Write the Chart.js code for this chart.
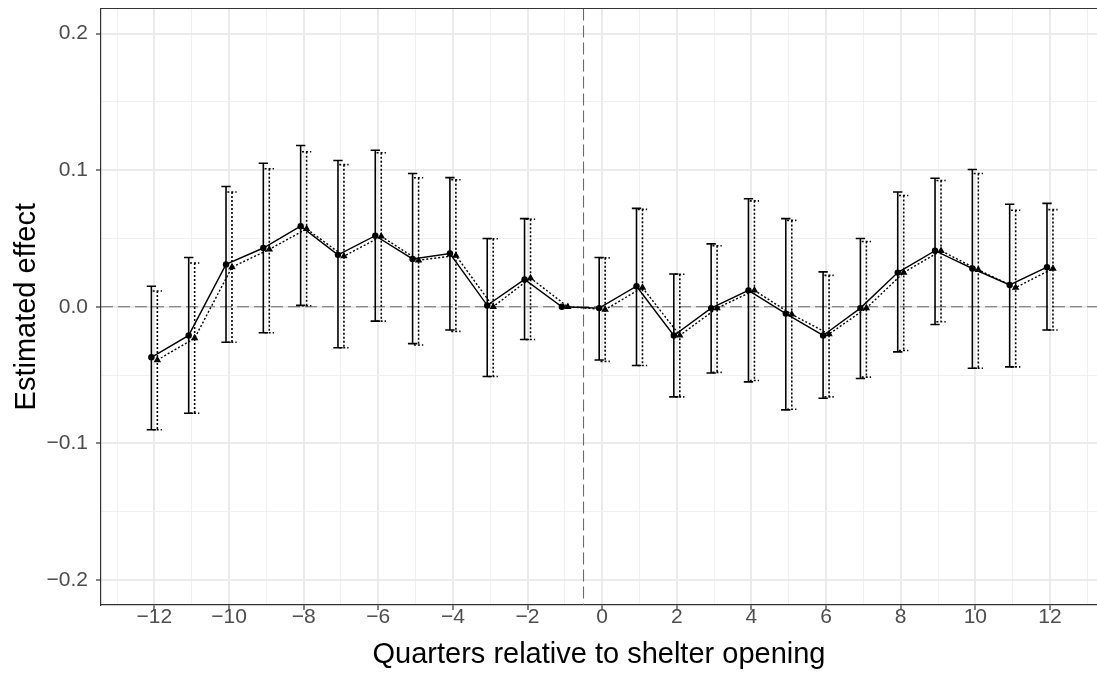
<!DOCTYPE html>
<html>
<head>
<meta charset="utf-8">
<script src="https://cdn.jsdelivr.net/npm/chart.js@4/dist/chart.umd.min.js"></script>
<style>
  html, body { margin: 0; padding: 0; background: #ffffff; overflow: hidden; }
  #wrap { width: 1097px; height: 675px; position: relative; }
</style>
</head>
<body>
<div id="wrap"><canvas id="c" width="1097" height="675"></canvas></div>
<script>
// Event-study estimates by quarter relative to shelter opening
const quarters = [-12, -11, -10, -9, -8, -7, -6, -5, -4, -3, -2, -1, 0, 1, 2, 3, 4, 5, 6, 7, 8, 9, 10, 11, 12];

// Model A (solid line, circles)
const estA  = [-0.037, -0.021, 0.031, 0.043, 0.059, 0.038, 0.052, 0.035, 0.039, 0.001, 0.020, 0, -0.001, 0.015, -0.021, -0.001, 0.012, -0.005, -0.021, -0.001, 0.025, 0.041, 0.028, 0.016, 0.029];
const lowA  = [-0.090, -0.078, -0.026, -0.019, 0.001, -0.030, -0.0105, -0.027, -0.017, -0.051, -0.024, null, -0.039, -0.043, -0.066, -0.0485, -0.055, -0.0755, -0.067, -0.0525, -0.033, -0.013, -0.045, -0.044, -0.017];
const highA = [0.015, 0.036, 0.088, 0.105, 0.118, 0.107, 0.1145, 0.0975, 0.0945, 0.050, 0.0645, null, 0.036, 0.072, 0.024, 0.046, 0.079, 0.0645, 0.0255, 0.050, 0.084, 0.094, 0.1005, 0.075, 0.0757];

// Model B (dotted line, triangles)
const estB  = [-0.039, -0.023, 0.029, 0.042, 0.057, 0.037, 0.0515, 0.034, 0.0375, 0, 0.021, 0, -0.002, 0.014, -0.021, -0.001, 0.012, -0.0056, -0.020, -0.001, 0.025, 0.041, 0.027, 0.014, 0.028];
const lowB  = [-0.090, -0.078, -0.026, -0.019, 0.0007, -0.030, -0.0105, -0.028, -0.018, -0.051, -0.024, null, -0.040, -0.043, -0.066, -0.048, -0.054, -0.075, -0.066, -0.0515, -0.032, -0.011, -0.045, -0.044, -0.017];
const highB = [0.0115, 0.032, 0.084, 0.101, 0.1135, 0.104, 0.1127, 0.0944, 0.093, 0.0498, 0.064, null, 0.0358, 0.0713, 0.0238, 0.0446, 0.0775, 0.0632, 0.023, 0.0478, 0.0814, 0.0924, 0.0975, 0.0706, 0.0711];

// Axis ticks (labelled) and reference lines
const xTickLabels = [-12, -10, -8, -6, -4, -2, 0, 2, 4, 6, 8, 10, 12];
const yTickLabels = [-0.2, -0.1, 0.0, 0.1, 0.2];
const eventLine = -0.5;
const zeroLine = 0;

const DODGE = 0.08;      // horizontal offset of the two models
const CAP = 0.125;       // half-width of error-bar caps (x units)
const FONT = "'Liberation Sans', Arial, Helvetica, sans-serif";
const minus = s => s.replace('-', '\u2212');

const ptsA = quarters.map((q, i) => ({ x: q - DODGE, y: estA[i] }));
const ptsB = quarters.map((q, i) => ({ x: q + DODGE, y: estB[i] }));

const isMajorX = v => Math.abs(v % 2) < 1e-9;
const isMajorY = v => Math.abs(Math.round(v * 10) - v * 10) < 1e-6;

const panelPlugin = {
  id: 'panel',
  beforeDatasetsDraw(chart) {
    const { ctx, chartArea: a, scales: { x, y } } = chart;
    ctx.save();
    ctx.beginPath();
    ctx.rect(a.left, a.top, a.right - a.left, a.bottom - a.top);
    ctx.clip();
    // reference lines
    ctx.strokeStyle = '#6b6b6b';
    ctx.lineWidth = 1.1;
    ctx.setLineDash([12, 5]);
    const y0 = y.getPixelForValue(zeroLine);
    ctx.beginPath(); ctx.moveTo(a.left, y0); ctx.lineTo(a.right, y0); ctx.stroke();
    const xe = x.getPixelForValue(eventLine);
    ctx.beginPath(); ctx.moveTo(xe, a.top); ctx.lineTo(xe, a.bottom); ctx.stroke();
    // error bars
    const drawBars = (offset, lows, highs, dash, width) => {
      ctx.strokeStyle = '#000000';
      ctx.lineWidth = width;
      ctx.setLineDash(dash);
      quarters.forEach((q, i) => {
        if (lows[i] === null || highs[i] === null) return;
        const xc = x.getPixelForValue(q + offset);
        const xl = x.getPixelForValue(q + offset - CAP);
        const xr = x.getPixelForValue(q + offset + CAP);
        const yl = y.getPixelForValue(lows[i]);
        const yh = y.getPixelForValue(highs[i]);
        ctx.beginPath();
        ctx.moveTo(xc, yh); ctx.lineTo(xc, yl);
        ctx.moveTo(xl, yh); ctx.lineTo(xr, yh);
        ctx.moveTo(xl, yl); ctx.lineTo(xr, yl);
        ctx.stroke();
      });
    };
    drawBars(-DODGE, lowA, highA, [], 1.6);
    drawBars(DODGE, lowB, highB, [2, 2], 1.6);
    ctx.restore();
  },
  afterDraw(chart) {
    const { ctx, chartArea: a } = chart;
    ctx.save();
    ctx.strokeStyle = '#333333';
    ctx.lineWidth = 1.2;
    ctx.beginPath();
    ctx.moveTo(a.left, a.top);
    ctx.lineTo(a.right, a.top);
    ctx.stroke();
    ctx.restore();
  }
};

new Chart(document.getElementById('c'), {
  type: 'scatter',
  data: {
    datasets: [
      {
        label: 'A',
        data: ptsA,
        showLine: true,
        borderColor: '#000000',
        backgroundColor: '#000000',
        borderWidth: 1.4,
        pointStyle: 'circle',
        pointRadius: 3.2,
        pointBorderWidth: 0,
        pointHoverRadius: 3.2
      },
      {
        label: 'B',
        data: ptsB,
        showLine: true,
        borderColor: '#000000',
        backgroundColor: '#000000',
        borderWidth: 1.4,
        borderDash: [2, 2],
        pointStyle: 'triangle',
        pointRadius: 4.3,
        pointBorderWidth: 0,
        pointHoverRadius: 4.3
      }
    ]
  },
  options: {
    responsive: false,
    animation: false,
    events: [],
    layout: { autoPadding: false, padding: { top: 8.5, right: 0, bottom: 0, left: 0 } },
    plugins: { legend: { display: false }, tooltip: { enabled: false } },
    scales: {
      x: {
        type: 'linear',
        min: -13.43,
        max: 13.26,
        afterBuildTicks(scale) {
          const t = [];
          for (let v = -13; v <= 13; v++) t.push({ value: v });
          scale.ticks = t;
        },
        afterFit(scale) {
          scale.height = 70;
          scale.paddingLeft = 0;
          scale.paddingRight = 0;
        },
        border: { display: true, color: '#333333', width: 1.2 },
        grid: {
          color: c => isMajorX(c.tick.value) ? '#ebebeb' : '#f0f0f0',
          lineWidth: c => isMajorX(c.tick.value) ? 2 : 1,
          drawTicks: true,
          tickLength: 5,
          tickColor: c => isMajorX(c.tick.value) ? '#333333' : 'rgba(0,0,0,0)',
          tickWidth: 1.2
        },
        ticks: {
          autoSkip: false,
          maxRotation: 0,
          padding: -5.5,
          color: '#4d4d4d',
          font: { family: FONT, size: 21 },
          callback: v => (isMajorX(v) && xTickLabels.includes(v)) ? minus(String(v)) : ''
        },
        title: {
          display: true,
          text: 'Quarters relative to shelter opening',
          color: '#000000',
          font: { family: FONT, size: 29 },
          padding: { top: 0, bottom: 2.6 }
        }
      },
      y: {
        type: 'linear',
        min: -0.2183,
        max: 0.2183,
        afterBuildTicks(scale) {
          const t = [];
          for (let k = -4; k <= 4; k++) t.push({ value: k * 0.05 });
          scale.ticks = t;
        },
        afterFit(scale) {
          scale.width = 101;
          scale.paddingTop = 0;
          scale.paddingBottom = 0;
        },
        border: { display: true, color: '#333333', width: 1.2 },
        grid: {
          color: c => isMajorY(c.tick.value) ? '#ebebeb' : '#f0f0f0',
          lineWidth: c => isMajorY(c.tick.value) ? 2 : 1,
          drawTicks: true,
          tickLength: 5,
          tickColor: c => isMajorY(c.tick.value) ? '#333333' : 'rgba(0,0,0,0)',
          tickWidth: 1.2
        },
        ticks: {
          autoSkip: false,
          padding: 8,
          color: '#4d4d4d',
          font: { family: FONT, size: 21 },
          callback: v => {
            if (!isMajorY(v)) return '';
            const r = Math.round(v * 10) / 10;
            return yTickLabels.includes(r) ? minus(r.toFixed(1)) : '';
          }
        },
        title: {
          display: true,
          text: 'Estimated effect',
          color: '#000000',
          font: { family: FONT, size: 29 },
          padding: { top: 9.6, bottom: 0 }
        }
      }
    }
  },
  plugins: [panelPlugin]
});
</script>
</body>
</html>
